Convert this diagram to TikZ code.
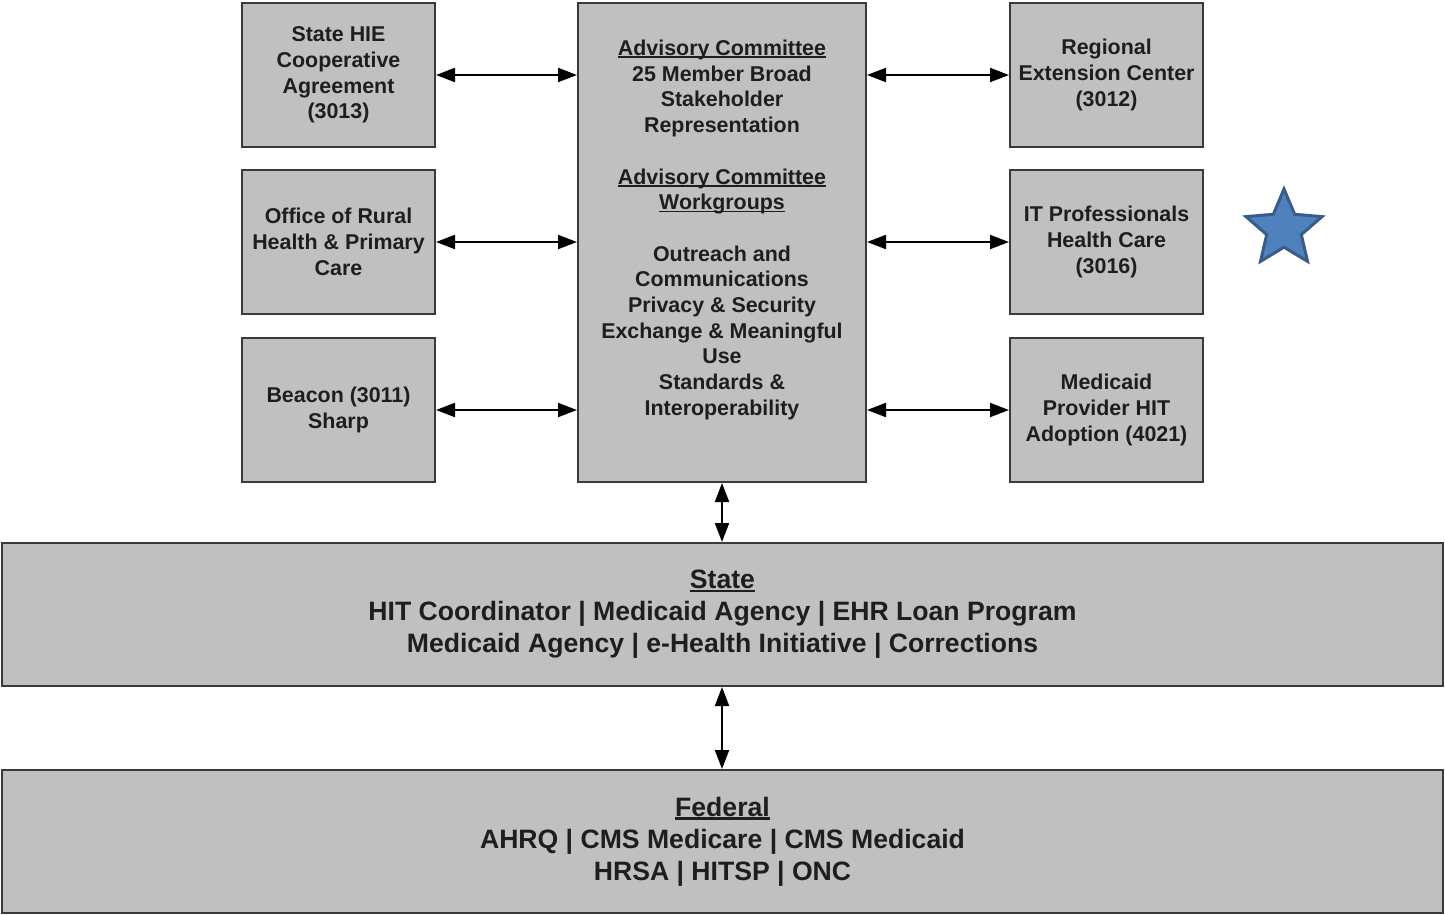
\documentclass[tikz,border=0pt]{standalone}
\usepackage{fontspec}
\setmainfont{Liberation Sans}
\usepackage{xcolor}
\usetikzlibrary{arrows, arrows.meta}
\usetikzlibrary{shapes.geometric}
\usetikzlibrary{calc}
\definecolor{boxgray}{RGB}{192,192,192}
\definecolor{boxline}{RGB}{58,58,58}
\definecolor{txtgray}{RGB}{30,30,30}
\definecolor{starfill}{RGB}{79,129,189}
\definecolor{starline}{RGB}{56,93,138}
\newcommand{\headline}[1]{\leavevmode\setbox0\hbox{#1}\rlap{\rule[-0.13em]{\wd0}{0.085em}}\box0}

\begin{document}
\begin{tikzpicture}[x=0.5pt, y=-0.5pt,
		box/.style={draw=boxline, fill=boxgray, line width=1pt, inner sep=0pt, align=center, text=txtgray,
			font=\bfseries\fontsize{10.7}{12.85}\selectfont},
		smallbox/.style={box, minimum width=96.5pt, minimum height=72pt},
		widebox/.style={box, minimum width=720.5pt, minimum height=71.5pt,
			font=\bfseries\fontsize{13.3}{16}\selectfont},
		dblarrow/.style={{Triangle[length=9.5pt,width=7pt]}-{Triangle[length=9.5pt,width=7pt]}, line width=1pt, black}]
					\useasboundingbox (0,0) rectangle (1445,915);
					% left column
					\node[smallbox] (hie) at (338.5,75) {State HIE\\Cooperative\\Agreement\\(3013)};
					\node[smallbox] (rural) at (338.5,242) {Office of Rural\\Health \& Primary\\Care};
					\node[smallbox] (beacon) at (338.5,410) {Beacon (3011)\\Sharp};
					% advisory committee
					\node[box, minimum width=144pt, minimum height=239.5pt] (adv) at (722,242.5)
						{\headline{Advisory Committee}\\25 Member Broad\\Stakeholder\\Representation\\[12.85pt]
						\headline{Advisory Committee}\\\headline{Workgroups}\\[12.85pt]
						Outreach and\\Communications\\Privacy \& Security\\Exchange \& Meaningful\\Use\\Standards \&\\Interoperability\\[2pt]~};
					% right column
					\node[smallbox] (rec) at (1106.5,75) {Regional\\Extension Center\\(3012)};
					\node[smallbox] (itpro) at (1106.5,242) {IT Professionals\\Health Care\\(3016)};
					\node[smallbox] (medicaid) at (1106.5,410) {Medicaid\\Provider HIT\\Adoption (4021)};
					% state and federal
					\node[widebox] (state) at (722.5,614.5)
						{\headline{State}\\HIT Coordinator | Medicaid Agency | EHR Loan Program\\Medicaid Agency | e-Health Initiative | Corrections};
					\node[widebox] (federal) at (722.5,841.5)
						{\headline{Federal}\\AHRQ | CMS Medicare | CMS Medicaid\\HRSA | HITSP | ONC};
					% star
					\node[star, star points=5, star point ratio=2.2, minimum size=40pt, inner sep=0pt,
						fill=starfill, draw=starline, line width=1.5pt] (mark) at (1284,229) {};
					% connectors
					\draw[dblarrow] (hie.east) -- (hie.east -| adv.west);
					\draw[dblarrow] (rural.east) -- (rural.east -| adv.west);
					\draw[dblarrow] (beacon.east) -- (beacon.east -| adv.west);
					\draw[dblarrow] (rec.west -| adv.east) -- (rec.west);
					\draw[dblarrow] (itpro.west -| adv.east) -- (itpro.west);
					\draw[dblarrow] (medicaid.west -| adv.east) -- (medicaid.west);
					\draw[dblarrow] (adv.south) -- (adv.south |- state.north);
					\draw[dblarrow] (state.south -| adv.south) -- (adv.south |- federal.north);
				\end{tikzpicture}
\end{document}
